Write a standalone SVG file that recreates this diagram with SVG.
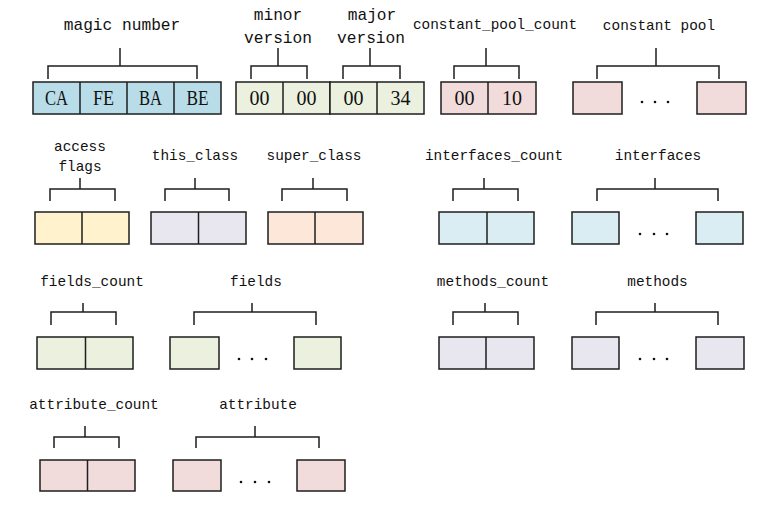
<svg xmlns="http://www.w3.org/2000/svg" width="780" height="512" viewBox="0 0 780 512">
<style>
.b{stroke:#1e1e1e;stroke-width:1.5}
.br{fill:none;stroke:#1e1e1e;stroke-width:1.5}
.lbl{font-family:"Liberation Mono","DejaVu Sans Mono",monospace;font-size:14.4px;fill:#111;text-anchor:middle}
.lbl2{font-family:"Liberation Mono","DejaVu Sans Mono",monospace;font-size:16.2px;fill:#111;text-anchor:middle}
.v{font-family:"Liberation Serif","DejaVu Serif",serif;font-size:20px;fill:#111;text-anchor:middle}
.dot{fill:#111}
.cBlue{fill:#b8dde8}.cGreen{fill:#ebf1de}.cPink{fill:#f2dcdb}.cYel{fill:#fff2cc}
.cLav{fill:#e8e6ee}.cPeach{fill:#fce7d9}.cLb{fill:#daedf3}
</style>
<rect width="780" height="512" fill="#fff"/>

<g id="connectors">
<path class="br" d="M48 79V66H197V79M120 48V66"/>
<path class="br" d="M251 79V66H307V79M278 48V66"/>
<path class="br" d="M343 79V66H400V79M370 48V66"/>
<path class="br" d="M454 79V66H519V79M486 48V66"/>
<path class="br" d="M597 79V66H719V79M656 48V66"/>

<path class="br" d="M50 201V189H115V201M80 178V189"/>
<path class="br" d="M165 201V189H229V201M195 178V189"/>
<path class="br" d="M282 201V189H347V201M313 178V189"/>
<path class="br" d="M453 201V189H518V201M484 178V189"/>
<path class="br" d="M597 201V189H718V201M655 178V189"/>

<path class="br" d="M51 325V312H116V325M83 303V312"/>
<path class="br" d="M194 325V312H316V325M252 303V312"/>
<path class="br" d="M453 325V312H518V325M485 303V312"/>
<path class="br" d="M596 325V312H718V325M655 303V312"/>

<path class="br" d="M54 448V437H119V448M85 426V437"/>
<path class="br" d="M196 448V437H319V448M255 426V437"/>
</g>

<g id="magic">
<text class="lbl2" x="122" y="30">magic number</text>
<rect class="b cBlue" x="33" y="82" width="188" height="32"/>
<path class="b" d="M80 82V114M127 82V114M174 82V114"/>
<text class="v" x="56.5" y="105" textLength="23" lengthAdjust="spacingAndGlyphs">CA</text>
<text class="v" x="103.5" y="105" textLength="21" lengthAdjust="spacingAndGlyphs">FE</text>
<text class="v" x="150.5" y="105" textLength="23" lengthAdjust="spacingAndGlyphs">BA</text>
<text class="v" x="197.5" y="105" textLength="22" lengthAdjust="spacingAndGlyphs">BE</text>
</g>

<g id="minor">
<text class="lbl2" x="278" y="20">minor</text>
<text class="lbl2" x="278" y="43">version</text>
<rect class="b cGreen" x="236" y="82" width="94" height="32"/>
<path class="b" d="M283 82V114"/>
<text class="v" x="259.5" y="105">00</text>
<text class="v" x="306.5" y="105">00</text>
</g>

<g id="major">
<text class="lbl2" x="372" y="20">major</text>
<text class="lbl2" x="371" y="43">version</text>
<rect class="b cGreen" x="330" y="82" width="94" height="32"/>
<path class="b" d="M377 82V114"/>
<text class="v" x="353.5" y="105">00</text>
<text class="v" x="400.5" y="105">34</text>
</g>

<g id="constant_pool_count">
<text class="lbl" x="495" y="29">constant_pool_count</text>
<rect class="b cPink" x="441" y="82" width="95" height="32"/>
<path class="b" d="M488 82V114"/>
<text class="v" x="464.5" y="105">00</text>
<text class="v" x="512" y="105">10</text>
</g>

<g id="constant_pool">
<text class="lbl" x="659" y="30">constant pool</text>
<rect class="b cPink" x="573" y="82" width="49" height="32"/>
<rect class="b cPink" x="697" y="82" width="49" height="32"/>
<circle class="dot" cx="642" cy="102" r="1.3"/><circle class="dot" cx="655" cy="102" r="1.3"/><circle class="dot" cx="668" cy="102" r="1.3"/>
</g>

<g id="access_flags">
<text class="lbl" x="80" y="151">access</text>
<text class="lbl" x="80" y="171">flags</text>
<rect class="b cYel" x="35" y="212" width="94" height="32"/>
<path class="b" d="M82 212V244"/>
</g>

<g id="this_class">
<text class="lbl" x="195" y="160">this_class</text>
<rect class="b cLav" x="151" y="212" width="95" height="32"/>
<path class="b" d="M198.5 212V244"/>
</g>

<g id="super_class">
<text class="lbl" x="314" y="160">super_class</text>
<rect class="b cPeach" x="268" y="212" width="95" height="32"/>
<path class="b" d="M315 212V244"/>
</g>

<g id="interfaces_count">
<text class="lbl" x="494" y="160">interfaces_count</text>
<rect class="b cLb" x="439" y="212" width="95" height="32"/>
<path class="b" d="M487 212V244"/>
</g>

<g id="interfaces">
<text class="lbl" x="658" y="160">interfaces</text>
<rect class="b cLb" x="572" y="212" width="47" height="32"/>
<rect class="b cLb" x="696" y="212" width="47" height="32"/>
<circle class="dot" cx="640" cy="234" r="1.3"/><circle class="dot" cx="654" cy="234" r="1.3"/><circle class="dot" cx="667" cy="234" r="1.3"/>
</g>

<g id="fields_count">
<text class="lbl" x="92" y="286">fields_count</text>
<rect class="b cGreen" x="37" y="337" width="96" height="32"/>
<path class="b" d="M85.5 337V369"/>
</g>

<g id="fields">
<text class="lbl" x="256" y="286">fields</text>
<rect class="b cGreen" x="170" y="337" width="49" height="32"/>
<rect class="b cGreen" x="294" y="337" width="47" height="32"/>
<circle class="dot" cx="239" cy="359" r="1.3"/><circle class="dot" cx="252" cy="359" r="1.3"/><circle class="dot" cx="266" cy="359" r="1.3"/>
</g>

<g id="methods_count">
<text class="lbl" x="493" y="286">methods_count</text>
<rect class="b cLav" x="439" y="337" width="95" height="32"/>
<path class="b" d="M486 337V369"/>
</g>

<g id="methods">
<text class="lbl" x="657.5" y="286">methods</text>
<rect class="b cLav" x="572" y="337" width="47" height="32"/>
<rect class="b cLav" x="696" y="337" width="48" height="32"/>
<circle class="dot" cx="640" cy="359" r="1.3"/><circle class="dot" cx="654" cy="359" r="1.3"/><circle class="dot" cx="667" cy="359" r="1.3"/>
</g>

<g id="attribute_count">
<text class="lbl" x="94" y="409">attribute_count</text>
<rect class="b cPink" x="40" y="460" width="95" height="31"/>
<path class="b" d="M87.5 460V491"/>
</g>

<g id="attribute">
<text class="lbl" x="258" y="409">attribute</text>
<rect class="b cPink" x="173" y="460" width="48" height="31"/>
<rect class="b cPink" x="297" y="460" width="48" height="31"/>
<circle class="dot" cx="241" cy="482" r="1.3"/><circle class="dot" cx="255" cy="482" r="1.3"/><circle class="dot" cx="269" cy="482" r="1.3"/>
</g>
</svg>
